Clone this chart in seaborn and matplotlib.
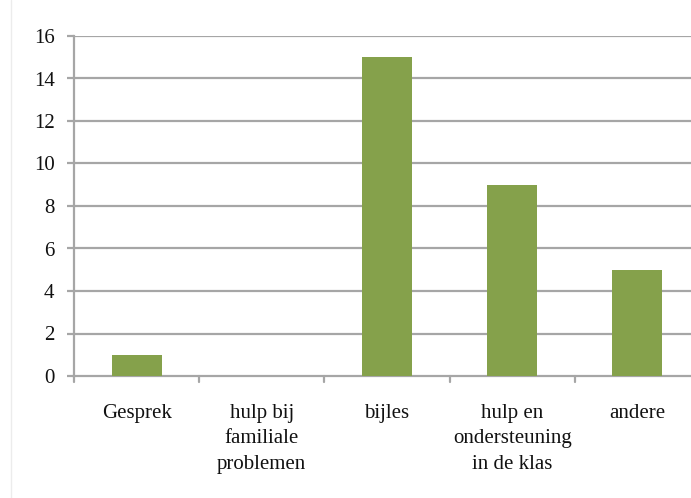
import matplotlib
matplotlib.use("Agg")
import matplotlib.pyplot as plt
import seaborn as sns
import pandas as pd
from matplotlib.lines import Line2D

categories = ["Gesprek", "hulp bij\nfamiliale\nproblemen", "bijles",
              "hulp en\nondersteuning\nin de klas", "andere"]
values = [1, 0, 15, 9, 5]
yticks = [0, 2, 4, 6, 8, 10, 12, 14, 16]

sns.set_theme(style="white")
plt.rcParams['font.family'] = ['Liberation Serif', 'DejaVu Serif']

df = pd.DataFrame({"cat": categories, "val": values})

fig = plt.figure(figsize=(6.91, 4.98), dpi=100)
ax = fig.add_axes([74/691, 122/498, 626/691, 340/498])

sns.barplot(data=df, x="cat", y="val", color="#85A14B", width=0.4,
            saturation=1, ax=ax, zorder=3, linewidth=0, edgecolor="none")

ax.set_ylim(0, 16)
ax.set_yticks(yticks)
ax.set_xlim(-0.5, len(categories) - 0.5)
ax.set_xlabel("")
ax.set_ylabel("")

gc = "#a6a6a6"
for y in yticks[1:]:
    ax.axhline(y, color=gc, lw=1.6, zorder=1)

for s in ["top", "right"]:
    ax.spines[s].set_visible(False)
for s in ["left", "bottom"]:
    ax.spines[s].set_color(gc)
    ax.spines[s].set_linewidth(1.6)

ax.set_xticks(range(len(categories)))
ax.set_xticklabels(categories, fontsize=15, linespacing=1.48, color="#111111")
ax.tick_params(axis="x", length=0, pad=20)
for b in [i - 0.5 for i in range(len(categories) + 1)]:
    ax.plot([b, b], [0, -0.3], color=gc, lw=1.6, clip_on=False, zorder=2)

ax.tick_params(axis="y", length=5, width=1.6, color=gc, direction="out",
               left=True, pad=9, labelsize=15, labelcolor="#111111")

fig.add_artist(Line2D([11/691, 11/691], [0, 1], color="#ececec", lw=1,
                      transform=fig.transFigure))

fig.savefig("out.png", dpi=100)
